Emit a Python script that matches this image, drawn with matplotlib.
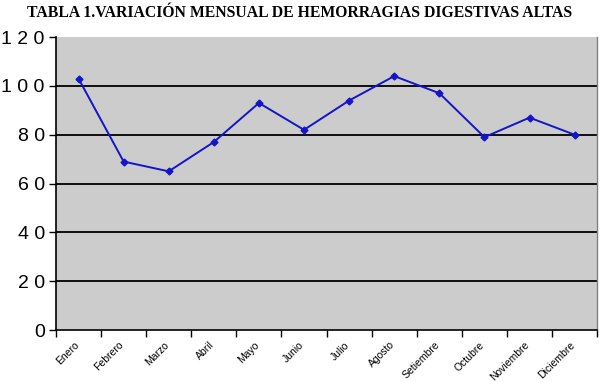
import matplotlib
matplotlib.use("Agg")
import matplotlib.pyplot as plt
import matplotlib.transforms as mtransforms
from matplotlib.ticker import FixedLocator, NullFormatter, FixedFormatter

months = ["Enero", "Febrero", "Marzo", "Abril", "Mayo", "Junio", "Julio",
          "Agosto", "Setiembre", "Octubre", "Noviembre", "Diciembre"]
values = [103, 69, 65, 77, 93, 82, 94, 104, 97, 79, 87, 80]
yticks = [0, 20, 40, 60, 80, 100, 120]
title = "TABLA 1.VARIACIÓN MENSUAL DE HEMORRAGIAS DIGESTIVAS ALTAS"

fig = plt.figure(figsize=(6, 3.82), dpi=100)
ax = fig.add_axes([0.0933, 0.136, 0.902, 0.767])
ax.set_facecolor("#cccccc")

x = list(range(len(months)))
ax.plot(x, values, color="#1414c8", lw=1.4, marker="D", ms=3.5, zorder=3)

ax.set_xlim(-0.5, len(months) - 0.5)
ax.set_ylim(0, 120)
for v in yticks[1:-1]:
    ax.axhline(v, color="black", lw=1.3, zorder=1)

ax.set_yticks(yticks)
ax.set_yticklabels([" ".join(str(v)) for v in yticks], fontsize=14,
                   family="Liberation Sans")
ax.tick_params(axis="y", length=5, width=1, pad=3)

ax.xaxis.set_major_locator(FixedLocator([i - 0.5 for i in range(len(months) + 1)]))
ax.xaxis.set_major_formatter(NullFormatter())
ax.xaxis.set_minor_locator(FixedLocator(x))
ax.xaxis.set_minor_formatter(FixedFormatter(months))
ax.tick_params(axis="x", which="major", length=5, width=1, direction="out")
ax.tick_params(axis="x", which="minor", length=0, pad=7)
shift = mtransforms.ScaledTranslation(-5 / 100, 0, fig.dpi_scale_trans)
for lab in ax.xaxis.get_minorticklabels():
    lab.set_rotation(45)
    lab.set_ha("right")
    lab.set_va("top")
    lab.set_fontsize(7.5)
    lab.set_family("Liberation Sans")
    lab.set_rotation_mode("anchor")
    lab.set_transform(lab.get_transform() + shift)

for s in ["left", "bottom"]:
    ax.spines[s].set_color("black")
    ax.spines[s].set_linewidth(1.2)
ax.spines["top"].set_visible(False)
ax.spines["right"].set_color("#808080")
ax.spines["right"].set_linewidth(1)

fig.text(0.5, 0.965, title, ha="center", va="center", fontsize=11.3,
         fontweight="bold", family="Liberation Serif")

fig.savefig("out.png", dpi=100, facecolor="white")
